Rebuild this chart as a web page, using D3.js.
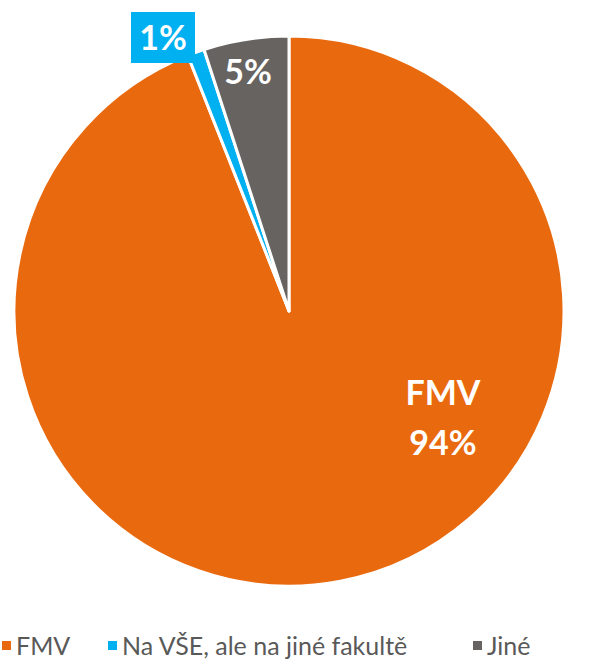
<!DOCTYPE html>
<head>
  <meta charset="utf-8">
  <script src="https://d3js.org/d3.v7.min.js"></script>
  <style>
    body { margin: 0; background: #fff; }
    text { font-family: 'Lato', 'Open Sans', sans-serif; }
    .slice-label { fill: #fff; font-weight: bold; font-size: 34px; }
    .legend-text { fill: #595959; font-size: 25px; }
  </style>
</head>
<body>
  <div id="chart"></div>
  <script>
    var categories = ["FMV", "Na VŠE, ale na jiné fakultě", "Jiné"];
    var values = [94, 1, 5];
    var labels = ["94%", "1%", "5%"];
    var colors = ["#e9690e", "#00b0f0", "#676361"];

    var w = 592, h = 659;
    var cx = 289, cy = 311, r = 275;

    var svg = d3.select("#chart")
      .append("svg")
      .attr("width", w)
      .attr("height", h);

    var pie = d3.pie().sort(null).value(function (d) { return d; });
    var arcs = pie(values);

    var arc = d3.arc().innerRadius(0).outerRadius(r);

    var g = svg.append("g")
      .attr("transform", "translate(" + cx + "," + cy + ")");

    g.selectAll("path")
      .data(arcs)
      .enter()
      .append("path")
      .attr("d", arc)
      .attr("fill", function (d, i) { return colors[i]; })
      .attr("stroke", "#fff")
      .attr("stroke-width", 3)
      .attr("stroke-linejoin", "round");

    // FMV – category name plus percent
    var fmv = g.append("text")
      .attr("class", "slice-label")
      .attr("text-anchor", "middle")
      .attr("y", 94);
    fmv.append("tspan").attr("x", 154).attr("dy", 0).text(categories[0]);
    fmv.append("tspan").attr("x", 154).attr("dy", 50).text(labels[0]);

    // Jiné – inside the grey slice, near the rim
    g.append("text")
      .attr("class", "slice-label")
      .attr("text-anchor", "middle")
      .attr("x", 248 - cx)
      .attr("y", 84 - cy)
      .text(labels[2]);

    // Na VŠE – boxed label outside
    var bx = 131 - cx, by = 12 - cy, bw = 64, bh = 51;
    g.append("rect")
      .attr("x", bx).attr("y", by)
      .attr("width", bw).attr("height", bh)
      .attr("fill", colors[1]);
    g.append("text")
      .attr("class", "slice-label")
      .attr("text-anchor", "middle")
      .attr("x", bx + bw / 2)
      .attr("y", by + 38)
      .text(labels[1]);

    // legend
    var legendX = [2, 108, 473];
    var leg = svg.append("g").attr("transform", "translate(0,641)");
    var items = leg.selectAll("g")
      .data(categories)
      .enter()
      .append("g")
      .attr("transform", function (d, i) { return "translate(" + legendX[i] + ",0)"; });
    items.append("rect")
      .attr("width", 9).attr("height", 9)
      .attr("fill", function (d, i) { return colors[i]; });
    items.append("text")
      .attr("class", "legend-text")
      .attr("x", 14)
      .attr("y", 14)
      .text(function (d) { return d; });
  </script>
</body>
</html>
